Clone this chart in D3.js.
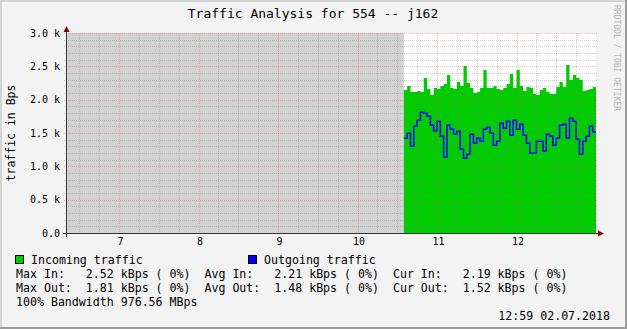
<!DOCTYPE html>
<html>
<head>
<meta charset="utf-8">
<script src="https://cdn.jsdelivr.net/npm/d3@7"></script>
<style>
  html, body { margin: 0; padding: 0; background: #f3f3f3; }
  svg { display: block; }
  text { font-family: "DejaVu Sans Mono", monospace; fill: #000; white-space: pre; }
</style>
</head>
<body>
<svg width="627" height="329"></svg>
<script>
// time window of the graph (02.07.2018)
var viewStart = new Date(2018, 6, 2, 6, 20);
var viewEnd = new Date(2018, 6, 2, 13, 0);
// first known sample, step in minutes
var dataStart = new Date(2018, 6, 2, 10, 35);
var stepMin = 2.5;

// incoming traffic, Bps
var incoming = [2145, 2205, 2115, 2115, 2130, 2115, 2325, 2160, 2070, 2175,
  2160, 2205, 2235, 2370, 2175, 2160, 2265, 2205, 2505, 2250,
  2175, 2100, 2115, 2175, 2445, 2175, 2175, 2205, 2160, 2145,
  2175, 2235, 2385, 2175, 2445, 2205, 2130, 2190, 2175, 2085,
  2070, 2145, 2175, 2115, 2085, 2085, 2190, 2265, 2190, 2520,
  2295, 2370, 2325, 2295, 2130, 2145, 2160, 2190];
// outgoing traffic, Bps
var outgoing = [1420, 1495, 1300, 1600, 1690, 1810, 1795, 1750, 1615, 1530,
  1675, 1450, 1135, 1615, 1555, 1485, 1525, 1255, 1120, 1180,
  1480, 1350, 1420, 1375, 1555, 1585, 1495, 1315, 1375, 1645,
  1570, 1675, 1465, 1690, 1555, 1630, 1465, 1345, 1195, 1195,
  1375, 1375, 1230, 1480, 1450, 1315, 1420, 1615, 1630, 1420,
  1720, 1675, 1405, 1180, 1375, 1450, 1600, 1515];

var yTicks = [0, 500, 1000, 1500, 2000, 2500, 3000];
var title = "Traffic Analysis for 554 -- j162";
var yLabel = "traffic in Bps";
var legendNames = ["Incoming traffic", "Outgoing traffic"];
var statLines = [
  "Max In:   2.52 kBps ( 0%)  Avg In:   2.21 kBps ( 0%)  Cur In:   2.19 kBps ( 0%)",
  "Max Out:  1.81 kBps ( 0%)  Avg Out:  1.48 kBps ( 0%)  Cur Out:  1.52 kBps ( 0%)",
  "100% Bandwidth 976.56 MBps"
];
var stamp = "12:59 02.07.2018";
var watermark = "RRDTOOL / TOBI OETIKER";

var W = 627, H = 329;
var pL = 66, pR = 596, pT = 33, pB = 233;
var green = "#00cc00", blue = "#0000ff";

var svg = d3.select("svg");

// frame
svg.append("rect").attr("width", W).attr("height", H).attr("fill", "#f3f3f3");
svg.append("path").attr("d", "M1,329V1H627").attr("fill", "none").attr("stroke", "#d4d4d4").attr("stroke-width", 2);
svg.append("path").attr("d", "M0,328H626V0").attr("fill", "none").attr("stroke", "#9c9c9c").attr("stroke-width", 2);

var x = d3.scaleTime().domain([viewStart, viewEnd]).range([pL, pR]);
var y = d3.scaleLinear().domain([0, 3000]).range([pB, pT]);

// canvas
svg.append("rect").attr("x", pL).attr("y", pT)
  .attr("width", pR - pL).attr("height", pB - pT).attr("fill", "#fff");
// unknown data region
svg.append("rect").attr("x", pL).attr("y", pT)
  .attr("width", x(dataStart) - pL).attr("height", pB - pT).attr("fill", "#d2d2d2");

function toPoints(vals) {
  var pts = vals.map(function(v, i) {
    return {t: d3.timeSecond.offset(dataStart, i * stepMin * 60), v: v};
  });
  pts.push({t: viewEnd, v: vals[vals.length - 1]});
  return pts;
}
var inPts = toPoints(incoming), outPts = toPoints(outgoing);

var area = d3.area().curve(d3.curveStepAfter)
  .x(function(d) { return x(d.t); }).y0(y(0)).y1(function(d) { return y(d.v); });
var line = d3.line().curve(d3.curveStepAfter)
  .x(function(d) { return x(d.t); }).y(function(d) { return y(d.v); });

svg.append("path").datum(inPts).attr("d", area).attr("fill", green);
svg.append("path").datum(outPts).attr("d", line)
  .attr("fill", "none").attr("stroke", blue).attr("stroke-width", 1.5);

// grid, drawn over the data
var minorT = x.ticks(d3.timeMinute.every(15)).filter(function(t) { return t < viewEnd && t.getMinutes() !== 0; });
var majorT = x.ticks(d3.timeHour.every(1)).filter(function(t) { return t < viewEnd; });
var minorV = d3.range(0, 3001, 100).filter(function(v) { return v % 500 !== 0; });
var px = function(v) { return Math.round(v) + 0.5; };
var minorCol = "rgba(120,120,120,0.35)", majorCol = "rgba(225,80,80,0.38)";
var g = svg.append("g").attr("stroke-dasharray", "1,1").attr("shape-rendering", "crispEdges");
g.selectAll(".vmin").data(minorT).enter()
  .append("line").attr("x1", function(d) { return px(x(d)); }).attr("x2", function(d) { return px(x(d)); })
  .attr("y1", pT).attr("y2", pB + 2).attr("stroke", minorCol);
g.selectAll(".hmin").data(minorV).enter()
  .append("line").attr("y1", function(d) { return px(y(d)); }).attr("y2", function(d) { return px(y(d)); })
  .attr("x1", pL - 2).attr("x2", pR + 2).attr("stroke", minorCol);
g.selectAll(".vmaj").data(majorT).enter()
  .append("line").attr("x1", function(d) { return px(x(d)); }).attr("x2", function(d) { return px(x(d)); })
  .attr("y1", pT).attr("y2", pB + 2).attr("stroke", majorCol);
g.selectAll(".hmaj").data(yTicks.filter(function(v) { return v > 0; })).enter()
  .append("line").attr("y1", function(d) { return px(y(d)); }).attr("y2", function(d) { return px(y(d)); })
  .attr("x1", pL - 2).attr("x2", pR + 2).attr("stroke", majorCol);

// axes lines and arrows
svg.append("line").attr("x1", pL + 0.5).attr("x2", pL + 0.5).attr("y1", pB + 4).attr("y2", pT - 2)
  .attr("stroke", "#333").attr("shape-rendering", "crispEdges");
svg.append("line").attr("x1", pL - 3).attr("x2", pR + 3).attr("y1", pB + 0.5).attr("y2", pB + 0.5)
  .attr("stroke", "#333").attr("shape-rendering", "crispEdges");
svg.append("path").attr("d", "M" + (pL - 2.5) + "," + (pT - 1) + "L" + (pL + 0.5) + "," + (pT - 7) + "L" + (pL + 3.5) + "," + (pT - 1) + "Z")
  .attr("fill", "#7f0000");
svg.append("path").attr("d", "M" + (pR + 2) + "," + (pB - 2.5) + "L" + (pR + 8) + "," + (pB + 0.5) + "L" + (pR + 2) + "," + (pB + 3.5) + "Z")
  .attr("fill", "#7f0000");

// tick labels
var xAxis = d3.axisBottom(x).tickValues(majorT).tickFormat(d3.timeFormat("%-H")).tickSize(0).tickPadding(5);
var xa = svg.append("g").attr("transform", "translate(1," + pB + ")").call(xAxis);
xa.select(".domain").remove();
xa.selectAll("text").style("font-family", "DejaVu Sans Mono").style("font-size", "10px").attr("fill", "#000");

var yAxis = d3.axisLeft(y).tickValues(yTicks).tickSize(0).tickPadding(6)
  .tickFormat(function(d) { return d === 0 ? "0.0" : (d / 1000).toFixed(1) + " k"; });
var ya = svg.append("g").attr("transform", "translate(" + pL + ",0)").call(yAxis);
ya.select(".domain").remove();
ya.selectAll("text").style("font-family", "DejaVu Sans Mono").style("font-size", "10px").attr("fill", "#000");

// title and labels
svg.append("text").attr("x", 313).attr("y", 18).attr("text-anchor", "middle")
  .style("font-size", "13px").text(title);
svg.append("text").attr("transform", "translate(15,133) rotate(-90)").attr("text-anchor", "middle")
  .style("font-size", "11.5px").text(yLabel);
svg.append("text").attr("transform", "translate(614,5) rotate(90)")
  .style("font-size", "8px").style("fill", "#b4b4b4").text(watermark);

// legend
var legX = [15, 248];
legendNames.forEach(function(name, i) {
  svg.append("rect").attr("x", legX[i] + 0.5).attr("y", 255.5).attr("width", 8).attr("height", 8)
    .attr("fill", i === 0 ? green : blue).attr("stroke", "#000");
  svg.append("text").attr("x", legX[i] + 16).attr("y", 263.5).style("font-size", "11.6px").text(name);
});
statLines.forEach(function(s, i) {
  svg.append("text").attr("x", 16).attr("y", 277.5 + i * 14).style("font-size", "11.6px").text(s);
});
svg.append("text").attr("x", 610).attr("y", 320).attr("text-anchor", "end")
  .style("font-size", "11.6px").text(stamp);
</script>
</body>
</html>
